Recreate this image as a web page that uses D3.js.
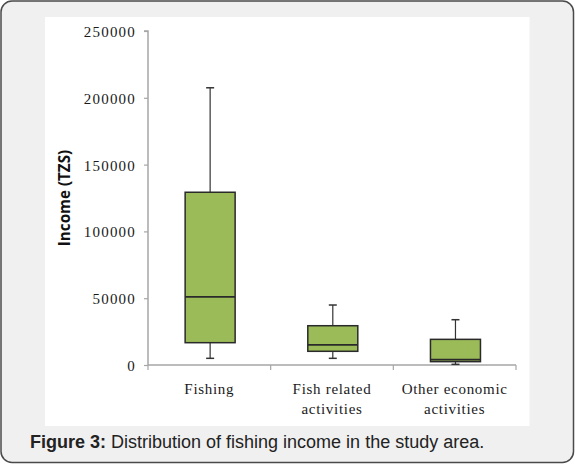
<!DOCTYPE html>
<html>
<head>
<meta charset="utf-8">
<script src="https://cdn.jsdelivr.net/npm/d3@7/dist/d3.min.js"></script>
<style>
  html, body { margin: 0; padding: 0; background: #fff; }
  svg { display: block; }
</style>
</head>
<body>
<svg id="chart" width="575" height="465"></svg>
<script>
// ---- data ----
const categories = [["Fishing"], ["Fish related", "activities"], ["Other economic", "activities"]];
const whiskerLow  = [5000, 5000, 500];
const q1Values    = [16700, 10250, 2500];
const medians     = [51000, 15000, 4000];
const q3Values    = [129300, 29400, 19200];
const whiskerHigh = [207500, 44900, 33900];
const yTicks = [0, 50000, 100000, 150000, 200000, 250000];
const yTitle = "Income (TZS)";
const captionBold = "Figure 3:";
const captionText = " Distribution of fishing income in the study area.";

const svg = d3.select("#chart");

// frame
svg.append("rect").attr("x", 1).attr("y", 1).attr("width", 572.5).attr("height", 461.5)
  .attr("rx", 11).attr("fill", "#f0f0f0").attr("stroke", "#4a4a4a").attr("stroke-width", 1.5);
svg.append("rect").attr("x", 45).attr("y", 17).attr("width", 484.5).attr("height", 409)
  .attr("fill", "#ffffff");

const keys = categories.map(c => c.join(" "));
const x = d3.scaleBand().domain(keys).range([148, 516]).padding(0);
const y = d3.scaleLinear().domain([0, 250000]).range([365, 31]);

const axisColor = "#a6a6a6";

// y axis
const gy = svg.append("g").attr("transform", "translate(148,0)")
  .call(d3.axisLeft(y).tickValues(yTicks).tickSize(4).tickPadding(8).tickFormat(d3.format("d")));
gy.select(".domain").attr("stroke", axisColor).attr("stroke-width", 1.5).attr("d", `M-4,${y(250000)}H0V${y(0)}`);
gy.selectAll(".tick line").attr("stroke", axisColor).attr("stroke-width", 1.2);
gy.selectAll(".tick text").attr("font-family", "'Liberation Serif', 'Times New Roman', serif")
  .attr("font-size", 15).attr("letter-spacing", 1.2).attr("fill", "#1a1a1a").attr("dy", "0.36em");

// x axis (line + boundary ticks)
const gx = svg.append("g");
gx.append("line").attr("x1", 148).attr("x2", x.range()[1]).attr("y1", y(0)).attr("y2", y(0))
  .attr("stroke", axisColor).attr("stroke-width", 1.5);
const bounds = keys.map(k => x(k)).concat([x(keys[keys.length - 1]) + x.bandwidth()]);
gx.selectAll("line.bt").data(bounds).join("line").attr("class", "bt")
  .attr("x1", d => d).attr("x2", d => d).attr("y1", y(0)).attr("y2", y(0) + 5)
  .attr("stroke", axisColor).attr("stroke-width", 1.2);

// category labels
const labels = gx.selectAll("text.cat").data(categories).join("text").attr("class", "cat")
  .attr("text-anchor", "middle")
  .attr("font-family", "'Liberation Serif', 'Times New Roman', serif")
  .attr("font-size", 15).attr("letter-spacing", 0.7).attr("fill", "#1a1a1a");
labels.each(function (lines, i) {
  const cx = x(keys[i]) + x.bandwidth() / 2;
  d3.select(this).selectAll("tspan").data(lines).join("tspan")
    .attr("x", cx).attr("y", (d, j) => 393.5 + j * 20).text(d => d);
});

// boxes
const boxW = 50, capW = 8;
const data = keys.map((k, i) => ({
  k, lo: whiskerLow[i], q1: q1Values[i], med: medians[i], q3: q3Values[i], hi: whiskerHigh[i]
}));
const gb = svg.append("g");
data.forEach(d => {
  const cx = x(d.k) + x.bandwidth() / 2 + 0.8;
  const g = gb.append("g");
  g.append("line").attr("x1", cx).attr("x2", cx).attr("y1", y(d.hi)).attr("y2", y(d.q3))
    .attr("stroke", "#333").attr("stroke-width", 1.2);
  g.append("line").attr("x1", cx).attr("x2", cx).attr("y1", y(d.q1)).attr("y2", y(d.lo))
    .attr("stroke", "#333").attr("stroke-width", 1.2);
  g.append("line").attr("x1", cx - capW / 2).attr("x2", cx + capW / 2).attr("y1", y(d.hi)).attr("y2", y(d.hi))
    .attr("stroke", "#333").attr("stroke-width", 1.5);
  g.append("line").attr("x1", cx - capW / 2).attr("x2", cx + capW / 2).attr("y1", y(d.lo)).attr("y2", y(d.lo))
    .attr("stroke", "#333").attr("stroke-width", 1.5);
  g.append("rect").attr("x", cx - boxW / 2).attr("width", boxW)
    .attr("y", y(d.q3)).attr("height", y(d.q1) - y(d.q3))
    .attr("fill", "#9bbb59").attr("stroke", "#2a2a2a").attr("stroke-width", 1.5);
  g.append("line").attr("x1", cx - boxW / 2).attr("x2", cx + boxW / 2).attr("y1", y(d.med)).attr("y2", y(d.med))
    .attr("stroke", "#2a2a2a").attr("stroke-width", 1.8);
});

// y title
svg.append("text").attr("transform", "translate(70,198) rotate(-90)")
  .attr("text-anchor", "middle")
  .attr("font-family", "'Open Sans', 'DejaVu Sans', sans-serif").attr("font-weight", "bold")
  .attr("font-size", 15.2).attr("fill", "#111").text(yTitle);

// caption
const cap = svg.append("text").attr("x", 30).attr("y", 447.5)
  .attr("font-family", "'Liberation Sans', Arial, sans-serif").attr("font-size", 18).attr("fill", "#222");
cap.append("tspan").attr("font-weight", "bold").text(captionBold);
cap.append("tspan").text(captionText);
</script>
</body>
</html>
